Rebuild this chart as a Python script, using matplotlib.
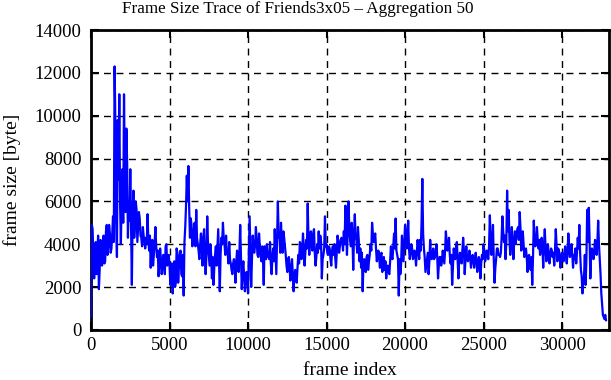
import numpy as np
import matplotlib
matplotlib.use("Agg")
import matplotlib.pyplot as plt

# frame size (aggregation 50): one reading every 100 frames
# starting at frame 0, and a second reading in between (frame 50, 150, ...)
frame_size = [
    600, 4700, 2400, 4100, 3500, 1900, 4200, 3000, 4400, 3200,
    4900, 3900, 4500, 3800, 5300, 12300, 5000, 9800, 11000, 4000,
    7500, 11000, 5500, 7800, 6000, 7500, 2100, 6500, 5000, 5600,
    4800, 5200, 4300, 4800, 4100, 4300, 5400, 3700, 2900, 4200,
    3500, 4800, 3400, 2500, 3800, 2600, 3500, 2600, 4000, 3200,
    3000, 2500, 1700, 3200, 2200, 3600, 3000, 3700, 2500, 1600,
    4800, 7200, 7650, 4300, 4900, 4200, 5000, 5600, 4000, 3300,
    4500, 3000, 4700, 2600, 5300, 3500, 4000, 2400, 2100, 3500,
    3000, 4700, 1800, 4300, 5000, 4000, 4400, 3600, 4100, 3100,
    2600, 3300, 2200, 3700, 2700, 4900, 1900, 3200, 1800, 2700,
    1700, 5300, 2000, 4400, 3600, 4800, 3500, 4500, 3500, 3900,
    2100, 3600, 4000, 3500, 4100, 2600, 3800, 4700, 2600, 6000,
    4400, 5000, 3600, 4300, 3500, 2700, 3400, 2300, 3300, 1800,
    2800, 2200, 3500, 4100, 3300, 4500, 3000, 4200, 5900, 3500,
    4600, 3700, 4700, 3000, 4000, 4600, 4400, 2400, 3500, 5300,
    4000, 3500, 3800, 3000, 3900, 4000, 2900, 4400, 3600, 4200,
    4100, 4600, 5800, 3500, 6000, 4200, 5000, 2800, 5400, 4200,
    4800, 3200, 2900, 1800, 3300, 2700, 3500, 3200, 4000, 5000,
    4100, 4500, 3200, 3700, 2900, 3600, 3100, 2800, 2400, 3000,
    2600, 3900, 3300, 4500, 5200, 3500, 1600, 2600, 4400, 3200,
    4900, 3800, 5100, 3300, 4000, 3300, 3700, 3000, 4200, 3300,
    3700, 7050, 3800, 2700, 3300, 2600, 4200, 3300, 3800, 3400,
    4000, 2400, 3400, 3000, 3700, 3100, 4600, 3700, 4300, 3100,
    2100, 3800, 3300, 4100, 2400, 3600, 3100, 4300, 2600, 3900,
    3200, 3700, 2900, 3500, 2900, 3600, 2700, 3400, 2400, 3500,
    4000, 3200, 3700, 3300, 5350, 3500, 4900, 2200, 3300, 3800,
    3500, 3600, 5300, 4100, 3300, 6500, 5600, 3500, 4800, 3300,
    4600, 4400, 4800, 5500, 3700, 4600, 3400, 3800, 2700, 3500,
    2800, 2100, 5100, 3900, 4800, 3800, 3500, 4300, 2900, 4700,
    3200, 4000, 3100, 3800, 3400, 3000, 4700, 3200, 3700, 2900,
    3600, 3200, 3900, 3100, 4500, 3400, 4000, 2900, 3300, 3100,
    4300, 4900, 2800, 1700, 2500, 2100, 5600, 5700, 2400, 3800,
    3300, 4200, 3500, 5100, 3300, 1700, 700, 500, 450,
]
frame_size_mid = [
    4900, 3300, 3700, 2600, 4400, 2800, 4000, 3900, 3100, 4600,
    3500, 4900, 3600, 4500, 4100, 9700, 3400, 7000, 5900, 6200,
    5000, 7400, 9400, 4300, 5100, 4800, 5400, 4300, 6000, 4100,
    5500, 4400, 3900, 4400, 3800, 4000, 4200, 4400, 3900, 3000,
    4100, 3900, 3700, 3000, 3300, 3000, 3100, 3900, 3000, 3500,
    2100, 3100, 2900, 2000, 3800, 2200, 3500, 2600, 3500, 4100,
    5800, 6000, 5700, 5200, 3900, 4700, 3900, 4300, 3700, 4000,
    3800, 4300, 3400, 3500, 4000, 3000, 3500, 3400, 2900, 3900,
    3900, 3300, 3500, 4000, 4300, 3500, 3600, 3100, 3300, 2800,
    3100, 3000, 3200, 3200, 3600, 3400, 2800, 2500, 2500, 2200,
    3600, 3600, 3300, 3700, 4000, 4200, 3400, 3900, 3200, 3300,
    3900, 3300, 3400, 3300, 3100, 3400, 3200, 3600, 4200, 4300,
    3600, 4000, 4600, 3900, 3000, 3300, 2800, 2900, 2600, 2500,
    2700, 2900, 3100, 4000, 3700, 3800, 3600, 3800, 4200, 4200,
    3900, 4500, 3600, 3400, 3600, 3800, 4100, 3300, 3800, 3900,
    3600, 3900, 3300, 3700, 3500, 3400, 3600, 4100, 3900, 4300,
    3700, 4000, 4700, 4600, 4700, 3900, 4300, 4500, 4300, 3600,
    4200, 3800, 3600, 3100, 2800, 3400, 2800, 3500, 3700, 4500,
    4300, 3800, 3400, 3400, 3500, 2700, 3400, 3200, 2900, 2700,
    3200, 3400, 3900, 3800, 3700, 3300, 3300, 3100, 3800, 4100,
    4600, 4000, 3800, 3600, 3800, 3400, 3500, 3600, 3800, 4200,
    5000, 4500, 3400, 3000, 3600, 3200, 3500, 3600, 3300, 3600,
    3400, 3000, 3400, 3200, 3400, 3700, 4100, 3900, 3500, 3500,
    3000, 3500, 3900, 3200, 3400, 3300, 3700, 3700, 3300, 3300,
    3400, 3300, 3400, 3200, 3300, 3200, 3100, 3200, 3100, 3300,
    3600, 3400, 3500, 3900, 4300, 3900, 3300, 2900, 3800, 3500,
    3400, 4300, 4600, 4400, 4100, 4600, 4200, 4000, 4100, 4100,
    4000, 4700, 4200, 4800, 4100, 4000, 3600, 3400, 3400, 3100,
    3400, 3400, 4200, 4000, 4200, 4200, 3900, 3900, 4000, 3800,
    3700, 3500, 3500, 3700, 3600, 3700, 3900, 3800, 3500, 3400,
    3300, 3600, 3400, 3600, 3800, 3600, 3500, 3500, 3800, 3600,
    3800, 3600, 2500, 2300, 3500, 3300, 4100, 4300, 3500, 3600,
    3700, 3800, 4100, 4000, 2600, 1200, 600, 700,
]

frames = np.concatenate([np.arange(len(frame_size)) * 100,
                         np.arange(len(frame_size_mid)) * 100 + 50])
sizes = np.concatenate([frame_size, frame_size_mid])
order = np.argsort(frames)

plt.rcParams["font.family"] = ["Liberation Serif", "DejaVu Serif"]

fig = plt.figure(figsize=(6.11, 3.80), dpi=100)
ax = fig.add_axes([0.149, 0.132, 0.848, 0.789])

ax.plot(frames[order], sizes[order], color="#0000ff", linewidth=1.6, zorder=3)

ax.set_xlim(0, 33000)
ax.set_ylim(0, 14000)
ax.set_xticks(np.arange(0, 30001, 5000))
ax.set_yticks(np.arange(0, 14001, 2000))
ax.grid(True, color="black", linestyle=(0, (5, 4)), linewidth=1.0, zorder=1)
ax.set_axisbelow(True)
ax.tick_params(direction="in", length=6, width=1.5, top=True, right=True, labelsize=13.5)
ax.tick_params(axis="y", pad=7)
ax.tick_params(axis="x", pad=5)
for s in ax.spines.values():
    s.set_linewidth(2)

# title is centred on the whole canvas, gnuplot style
fig.text(0.488, 0.966, "Frame Size Trace of Friends3x05 – Aggregation 50",
         fontsize=12.3, ha="center", va="baseline")
ax.set_xlabel("frame index", fontsize=14, labelpad=6)
ax.set_ylabel("frame size [byte]", fontsize=14, labelpad=10)

fig.savefig("out.png", dpi=100)
